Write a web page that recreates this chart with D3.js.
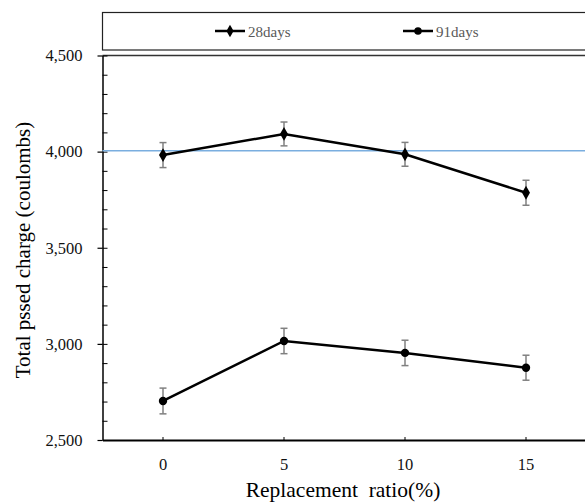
<!DOCTYPE html>
<html>
<head>
<meta charset="utf-8">
<script src="https://cdn.jsdelivr.net/npm/d3@7"></script>
<style>
  html, body { margin: 0; padding: 0; background: #fff; }
  svg { display: block; }
  svg text { font-family: "Liberation Serif", "Times New Roman", serif !important; }
</style>
</head>
<body>
<svg id="chart" width="585" height="504"></svg>
<script>
// ---- data ----
const categories = ["0", "5", "10", "15"];
const days28 = [3982, 4092, 3986, 3786];
const days28Err = [65, 62, 62, 65];
const days91 = [2703, 3015, 2953, 2876];
const days91Err = [67, 66, 66, 65];
const yTicks = [2500, 3000, 3500, 4000, 4500];
const yMinorTicks = d3.range(2500, 4501, 100);
const referenceValue = 4005;
const seriesNames = ["28days", "91days"];
const xTitle = "Replacement  ratio(%)";
const yTitle = "Total pssed charge (coulombs)";

// ---- layout ----
const FONT = "'Liberation Serif', 'Times New Roman', serif";
const svg = d3.select("#chart");
const plotLeft = 102.5, plotRight = 586.5, plotTop = 55.5, plotBottom = 440;

const x = d3.scaleBand().domain(categories).range([plotLeft, plotRight]);
const y = d3.scaleLinear().domain([2500, 4500]).range([plotBottom, plotTop]);
const cx = c => x(c) + x.bandwidth() / 2;

// legend box
svg.append("rect")
  .attr("x", 102.5).attr("y", 12.5).attr("width", 500).attr("height", 37.5)
  .attr("fill", "none").attr("stroke", "#222").attr("stroke-width", 1.2);

// plot top border
svg.append("line")
  .attr("x1", plotLeft).attr("x2", 585).attr("y1", plotTop).attr("y2", plotTop)
  .attr("stroke", "#333").attr("stroke-width", 1.3);

// minor ticks (inside)
const yAxisMinor = d3.axisRight(y).tickValues(yMinorTicks).tickSize(5).tickFormat("");
svg.append("g").attr("transform", `translate(${plotLeft},0)`).call(yAxisMinor)
  .call(g => g.select(".domain").remove())
  .call(g => g.selectAll("line").attr("stroke", "#000").attr("stroke-width", 1));

// y axis major
const yAxis = d3.axisLeft(y).tickValues(yTicks).tickSize(5).tickSizeOuter(0).tickPadding(15)
  .tickFormat(d3.format(","));
svg.append("g").attr("transform", `translate(${plotLeft},0)`).call(yAxis)
  .attr("font-family", FONT)
  .call(g => g.select(".domain").attr("stroke", "#000").attr("stroke-width", 1.5))
  .call(g => g.selectAll("line").attr("stroke", "#000").attr("stroke-width", 1.2))
  .call(g => g.selectAll("text")
    .style("font-family", FONT).attr("font-size", 16.5).attr("fill", "#111"));

// x axis
const xAxis = d3.axisBottom(x).tickSize(-3).tickSizeOuter(0).tickPadding(18);
svg.append("g").attr("transform", `translate(0,${plotBottom})`).call(xAxis)
  .attr("font-family", FONT)
  .call(g => g.select(".domain").attr("stroke", "#000").attr("stroke-width", 2))
  .call(g => g.selectAll("line").attr("stroke", "#000").attr("stroke-width", 1))
  .call(g => g.selectAll("text")
    .style("font-family", FONT).attr("font-size", 16.5).attr("fill", "#111"));

// reference line
svg.append("line")
  .attr("x1", plotLeft).attr("x2", 585)
  .attr("y1", y(referenceValue)).attr("y2", y(referenceValue))
  .attr("stroke", "#7aaedf").attr("stroke-width", 1.5);

// series
const series = [
  { name: seriesNames[0], values: days28, err: days28Err, marker: "diamond" },
  { name: seriesNames[1], values: days91, err: days91Err, marker: "circle" }
];

const line = d3.line().x((d, i) => cx(categories[i])).y(d => y(d));

series.forEach(s => {
  const g = svg.append("g");
  s.values.forEach((v, i) => {
    const px = cx(categories[i]);
    const eg = g.append("g").attr("stroke", "#808080").attr("stroke-width", 1.5);
    eg.append("line").attr("x1", px).attr("x2", px).attr("y1", y(v + s.err[i])).attr("y2", y(v - s.err[i]));
    eg.append("line").attr("x1", px - 3.5).attr("x2", px + 3.5).attr("y1", y(v + s.err[i])).attr("y2", y(v + s.err[i]));
    eg.append("line").attr("x1", px - 3.5).attr("x2", px + 3.5).attr("y1", y(v - s.err[i])).attr("y2", y(v - s.err[i]));
  });
  g.append("path").datum(s.values).attr("d", line)
    .attr("fill", "none").attr("stroke", "#000").attr("stroke-width", 2.5);
  const sym = s.marker === "diamond"
    ? d3.symbol().type(d3.symbolDiamond).size(55)
    : d3.symbol().type(d3.symbolCircle).size(55);
  g.selectAll("path.m").data(s.values).enter().append("path")
    .attr("class", "m")
    .attr("transform", (d, i) => `translate(${cx(categories[i])},${y(d)})`)
    .attr("d", sym).attr("fill", "#000");
});

// legend
const legendItems = [
  { name: seriesNames[0], x1: 215, x2: 245, marker: "diamond" },
  { name: seriesNames[1], x1: 403, x2: 433, marker: "circle" }
];
legendItems.forEach(l => {
  const ly = 31;
  svg.append("line").attr("x1", l.x1).attr("x2", l.x2).attr("y1", ly).attr("y2", ly)
    .attr("stroke", "#000").attr("stroke-width", 2.5);
  const sym = l.marker === "diamond"
    ? d3.symbol().type(d3.symbolDiamond).size(45)
    : d3.symbol().type(d3.symbolCircle).size(45);
  svg.append("path").attr("transform", `translate(${(l.x1 + l.x2) / 2},${ly})`)
    .attr("d", sym).attr("fill", "#000");
  svg.append("text").attr("x", l.x2 + 3).attr("y", ly + 5.5)
    .style("font-family", FONT)
    .attr("font-size", 15).attr("fill", "#595959").text(l.name);
});

// axis titles
svg.append("text")
  .attr("x", 343).attr("y", 497)
  .style("font-family", FONT)
  .attr("text-anchor", "middle").attr("font-size", 21.5).attr("fill", "#000")
  .style("white-space", "pre")
  .text(xTitle);

svg.append("text")
  .attr("transform", "translate(30,250) rotate(-90)")
  .style("font-family", FONT)
  .attr("text-anchor", "middle").attr("font-size", 21).attr("fill", "#000")
  .text(yTitle);
</script>
</body>
</html>
